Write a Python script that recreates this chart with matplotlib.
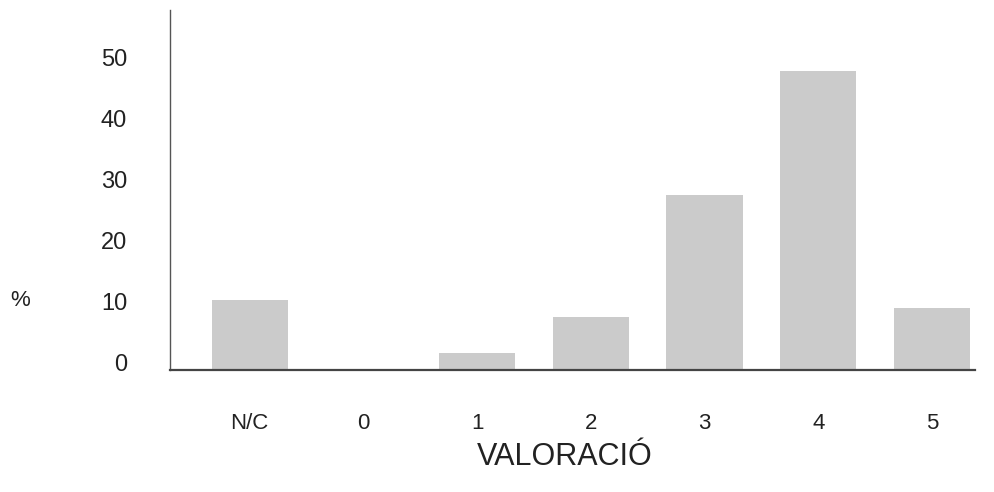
import matplotlib.pyplot as plt
import matplotlib.transforms as mtransforms

categories = ['N/C', '0', '1', '2', '3', '4', '5']
percent = [11.5, 0, 2.8, 8.7, 28.7, 49, 10.2]
y_ticks = [0, 10, 20, 30, 40, 50]

plt.rcParams['font.family'] = ['Liberation Sans', 'DejaVu Sans']

fig = plt.figure(figsize=(9.95, 4.92), dpi=100)
ax = fig.add_axes([0.171, 0.248, 0.809, 0.732])

x = range(len(categories))
ax.bar(x, percent, width=0.67, color='#cbcbcb', edgecolor='none')

ax.set_xlim(-0.70, 6.38)
ax.set_ylim(0, 59)
ax.set_xticks(list(x))
ax.set_xticklabels(categories, fontsize=16, color='#222222')
ax.set_yticks(y_ticks)
ax.set_yticklabels([str(v) for v in y_ticks], fontsize=17, color='#222222')
ax.tick_params(axis='y', length=0, pad=31)
ax.tick_params(axis='x', length=0, pad=31)

# the printed y labels sit a little above their gridline
shift = mtransforms.ScaledTranslation(0, 7 / 100, fig.dpi_scale_trans)
for lab in ax.get_yticklabels():
    lab.set_transform(lab.get_transform() + shift)

for s in ['top', 'right']:
    ax.spines[s].set_visible(False)
ax.spines['left'].set_color('#555555')
ax.spines['bottom'].set_color('#444444')
ax.spines['left'].set_linewidth(1.0)
ax.spines['bottom'].set_linewidth(1.6)

fig.text(0.568, 0.071, 'VALORACIÓ', fontsize=22, color='#222222', ha='center', va='center')
fig.text(0.010, 0.39, '%', fontsize=16, color='#222222', va='center')

fig.savefig('out.png', dpi=100)
